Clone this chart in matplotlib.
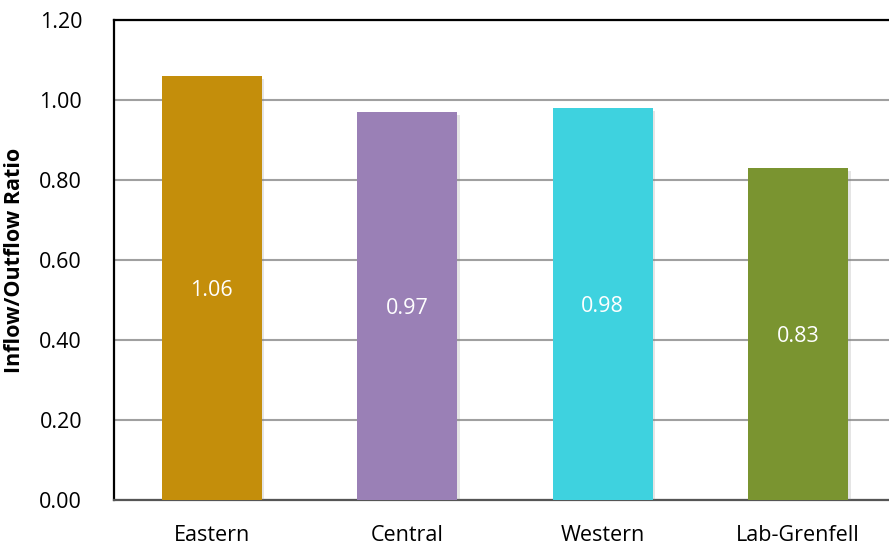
import numpy as np
import matplotlib.pyplot as plt
import matplotlib.patheffects as pe

# Données
regions = ["Eastern", "Central", "Western", "Lab-Grenfell"]
ratios = [1.06, 0.97, 0.98, 0.83]
colors = ["#C48E0B", "#9A80B6", "#3ED2DF", "#7A9430"]
yticks = [0.00, 0.20, 0.40, 0.60, 0.80, 1.00, 1.20]

plt.rcParams['font.family'] = ['Open Sans', 'DejaVu Sans']

fig = plt.figure(figsize=(8.89, 5.46), dpi=100)
ax = fig.add_axes([114 / 889, 46 / 546, 782 / 889, 480 / 546])

x = np.arange(len(regions))
bars = ax.bar(x, ratios, width=0.51, color=colors, zorder=3)
for b in bars:
    b.set_path_effects([pe.SimplePatchShadow(offset=(2, -2), shadow_rgbFace='gray', alpha=0.2),
                        pe.Normal()])

# étiquettes au milieu des barres
for xi, v in zip(x, ratios):
    ax.text(xi, v / 2, f"{v:.2f}", ha='center', va='center_baseline', color='white',
            fontsize=15.5, zorder=4)

ax.set_xlim(-0.5, 3.5)
ax.set_ylim(0, 1.2)
ax.set_yticks(yticks)
ax.set_yticklabels([f"{t:.2f}" for t in yticks], fontsize=15.5)
ax.set_xticks(x)
ax.set_xticklabels(regions, fontsize=15.5)
ax.tick_params(axis='both', length=0)
ax.tick_params(axis='y', pad=23)
ax.tick_params(axis='x', pad=18)
ax.set_ylabel("Inflow/Outflow Ratio", fontweight='bold', fontsize=15.5, labelpad=10)

ax.yaxis.grid(True, color='#A0A0A0', linewidth=1.5, zorder=0)
ax.set_axisbelow(True)
ax.spines['right'].set_visible(False)
ax.spines['top'].set_color('black')
ax.spines['top'].set_linewidth(1.6)
ax.spines['left'].set_color('black')
ax.spines['left'].set_linewidth(1.6)
ax.spines['bottom'].set_color('#555555')
ax.spines['bottom'].set_linewidth(1.6)

fig.savefig("out.png", dpi=100)
